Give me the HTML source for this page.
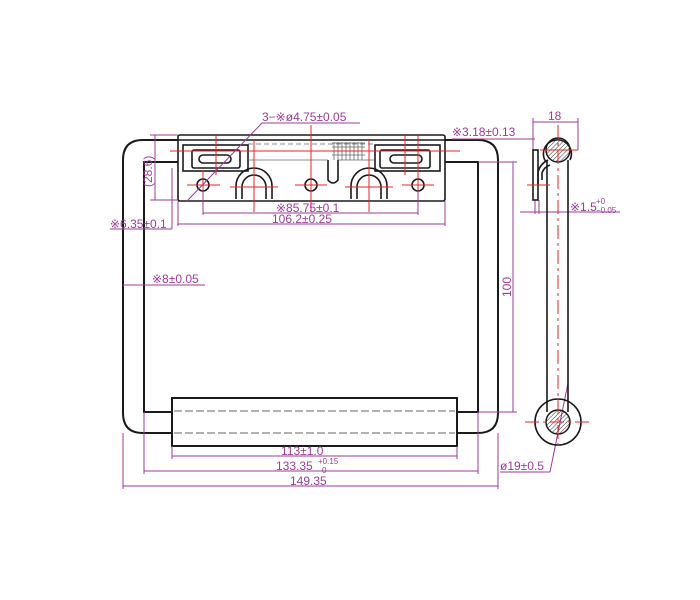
<!DOCTYPE html>
<html><head><style>
html,body{margin:0;padding:0;background:#fff;}
svg{display:block;}
text{font-family:"Liberation Sans",sans-serif;fill:#9b3d95;}
</style></head><body>
<svg width="700" height="600" viewBox="0 0 700 600" xmlns="http://www.w3.org/2000/svg">
<defs>
<pattern id="h" width="3" height="3" patternUnits="userSpaceOnUse" patternTransform="rotate(45)">
<line x1="0" y1="0" x2="0" y2="3" stroke="#333" stroke-width="1"/></pattern>
</defs>
<rect width="700" height="600" fill="#fff"/>
<g fill="none" stroke="#1a1a1a" stroke-width="2">
<path d="M178 140 H143 Q123 140 123 160 V413 Q123 433 143 433 H172"/>
<path d="M457 433 H478 Q498 433 498 413 V160 Q498 140 478 140 H445"/>
<path d="M178 162 H144 V412 H172"/>
<path d="M457 412 H478 V162 H445"/>
<rect x="172" y="398" width="285" height="48"/>
</g>
<g stroke="#666" stroke-width="1" stroke-dasharray="8 3" fill="none">
<line x1="174" y1="411" x2="455" y2="411"/><line x1="174" y1="433" x2="455" y2="433"/>
</g>
<g fill="none" stroke="#1a1a1a" stroke-width="1.6">
<rect x="178" y="135" width="267" height="66" rx="2"/>
<line x1="178" y1="140" x2="445" y2="140"/>
<rect x="183" y="145" width="65" height="26"/>
<rect x="375" y="145" width="65" height="26"/>
<rect x="192" y="150" width="48" height="18" rx="2"/>
<rect x="380" y="150" width="50" height="18" rx="2"/>
<rect x="199" y="155" width="32" height="8" rx="4"/>
<rect x="390" y="155" width="32" height="8" rx="4"/>
<circle cx="203" cy="185" r="6"/><circle cx="311" cy="185" r="6"/><circle cx="418" cy="185" r="6"/>
<path d="M236 199 V186 A18 18 0 0 1 272 186 V199"/>
<path d="M242 199 V187 A12 12 0 0 1 266 187 V199"/>
<path d="M351 199 V186 A18 18 0 0 1 387 186 V199"/>
<path d="M357 199 V187 A12 12 0 0 1 381 187 V199"/>
<path d="M328 160 V180 Q333 186 338 180 V160"/>
</g>
<g stroke="#666" stroke-width="0.8" fill="none">
<line x1="248" y1="144" x2="375" y2="144" stroke-dasharray="5 3"/>
<line x1="248" y1="160" x2="328" y2="160"/><line x1="338" y1="160" x2="375" y2="160"/>
<path d="M332 143 h33 M332 147 h33 M332 151 h33 M332 155 h33" />
<path d="M334 142 v18 M338 142 v18 M342 142 v18 M346 142 v18 M350 142 v18 M354 142 v18 M358 142 v18 M362 142 v18"/>
</g>
<g stroke="#e8232a" stroke-width="1">
<line x1="170" y1="151" x2="460" y2="151"/>
<line x1="187" y1="185" x2="220" y2="185"/><line x1="203" y1="170" x2="203" y2="200"/>
<line x1="295" y1="185" x2="327" y2="185"/><line x1="311" y1="125" x2="311" y2="212"/>
<line x1="402" y1="185" x2="434" y2="185"/><line x1="418" y1="135" x2="418" y2="200"/>
<line x1="216" y1="135" x2="216" y2="175"/><line x1="405" y1="135" x2="405" y2="175"/>
<line x1="230" y1="187" x2="278" y2="187"/><line x1="254" y1="140" x2="254" y2="212"/>
<line x1="345" y1="187" x2="393" y2="187"/><line x1="369" y1="140" x2="369" y2="212"/>
</g>
<g stroke="#9b3d95" stroke-width="1" fill="none">
<line x1="262" y1="123" x2="360" y2="123"/><line x1="262" y1="123" x2="187" y2="201"/>
<line x1="155" y1="135" x2="155" y2="200"/><line x1="150" y1="135" x2="178" y2="135"/><line x1="150" y1="200" x2="178" y2="200"/>
<line x1="172" y1="168" x2="172" y2="229"/><line x1="110" y1="229" x2="172" y2="229"/>
<line x1="123" y1="285" x2="205" y2="285"/>
<line x1="203" y1="190" x2="203" y2="215"/><line x1="418" y1="190" x2="418" y2="215"/>
<line x1="203" y1="213" x2="418" y2="213"/>
<line x1="178" y1="201" x2="178" y2="226"/><line x1="445" y1="201" x2="445" y2="226"/>
<line x1="178" y1="224" x2="445" y2="224"/>
<line x1="452" y1="139" x2="535" y2="139"/>
<line x1="172" y1="446" x2="172" y2="459"/><line x1="457" y1="446" x2="457" y2="459"/>
<line x1="172" y1="456" x2="457" y2="456"/>
<line x1="144" y1="412" x2="144" y2="474"/><line x1="478" y1="412" x2="478" y2="474"/>
<line x1="144" y1="471" x2="478" y2="471"/>
<line x1="123" y1="433" x2="123" y2="489"/><line x1="498" y1="433" x2="498" y2="489"/>
<line x1="123" y1="486" x2="498" y2="486"/>
<line x1="478" y1="162" x2="517" y2="162"/><line x1="478" y1="412" x2="517" y2="412"/>
<line x1="513" y1="162" x2="513" y2="412"/>
<line x1="533" y1="118" x2="533" y2="150"/><line x1="578" y1="118" x2="578" y2="150"/>
<line x1="533" y1="122" x2="578" y2="122"/>
<line x1="520" y1="212" x2="620" y2="212"/>
<line x1="535" y1="200" x2="535" y2="214"/><line x1="539" y1="200" x2="539" y2="214"/>
<line x1="500" y1="472" x2="550" y2="472"/><line x1="550" y1="472" x2="568" y2="383"/>
</g>
<g fill="none" stroke="#1a1a1a" stroke-width="1.6">
<rect x="533" y="150" width="5" height="50"/>
<line x1="547" y1="160" x2="547" y2="412"/><line x1="568" y1="160" x2="568" y2="412"/>
<path d="M538 185 V172 Q540 164 548 160"/>
<path d="M542 180 V173 Q544 167 550 165"/>
<circle cx="558" cy="422" r="23"/>
<path d="M546 162 A14 14 0 1 1 570 160"/>
</g>
<circle cx="558" cy="150" r="12" fill="url(#h)" stroke="#1a1a1a" stroke-width="1.5"/>
<circle cx="558" cy="422" r="12" fill="url(#h)" stroke="#1a1a1a" stroke-width="1.5"/>
<g stroke="#e8232a" stroke-width="1">
<line x1="558" y1="125" x2="558" y2="450" stroke-dasharray="14 4 3 4"/>
<line x1="540" y1="150" x2="578" y2="150"/>
<line x1="527" y1="185" x2="550" y2="185"/>
<line x1="525" y1="422" x2="590" y2="422" stroke-dasharray="14 4 3 4"/>
</g>
<g font-size="12">
<text x="262" y="121">3−※ø4.75±0.05</text>
<text x="452" y="136">※3.18±0.13</text>
<text x="276" y="212">※85.75±0.1</text>
<text x="272" y="223">106.2±0.25</text>
<text x="110" y="228">※6.35±0.1</text>
<text x="152" y="283">※8±0.05</text>
<text x="281" y="455">113±1.0</text>
<text x="276" y="470">133.35</text>
<text x="318" y="464" font-size="8">+0.15</text>
<text x="322" y="473" font-size="8">0</text>
<text x="290" y="485">149.35</text>
<text x="548" y="120">18</text>
<text x="570" y="211">※1.5</text>
<text x="596" y="204" font-size="8">+0</text>
<text x="596" y="213" font-size="8">−0.05</text>
<text x="500" y="470">ø19±0.5</text>
<text transform="translate(152,187) rotate(-90)">(28.6)</text>
<text transform="translate(511,297) rotate(-90)">100</text>
</g>
</svg>
</body></html>
